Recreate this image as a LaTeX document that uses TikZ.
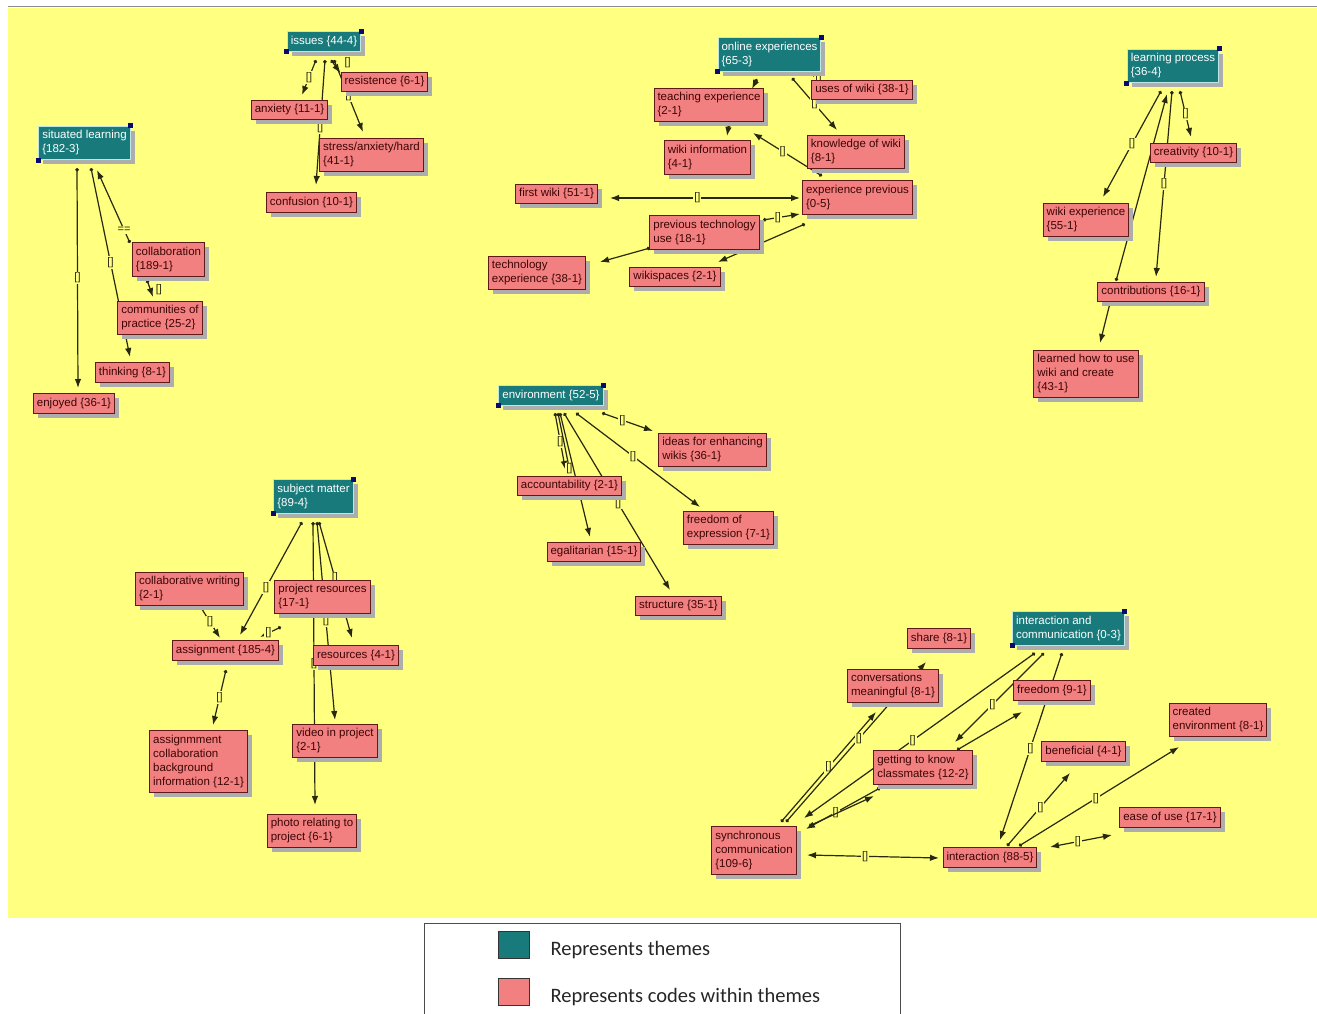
\documentclass[tikz,border=0pt]{standalone}
\usepackage{xcolor}
\usepackage{fontspec}
\setmainfont{Liberation Sans}
\newfontfamily\keyfont{Carlito}
\usepackage{tikz}
\usetikzlibrary{shadows,calc,positioning,arrows.meta}
\pgfdeclarelayer{bg}
\pgfdeclarelayer{edges}
\pgfsetlayers{bg,edges,main}

\definecolor{paper}{RGB}{255,255,128}
\definecolor{themefill}{RGB}{24,122,122}
\definecolor{themeline}{RGB}{190,230,230}
\definecolor{codefill}{RGB}{242,128,128}
\definecolor{codeline}{RGB}{95,25,25}
\definecolor{codetext}{RGB}{60,5,5}
\definecolor{edgecol}{RGB}{40,40,15}
\definecolor{handlecol}{RGB}{10,10,110}

\tikzset{
  box/.style={align=left, inner xsep=3.5pt, inner ysep=4.2pt,
    font=\fontsize{11.5}{14}\selectfont, line width=1pt,
    drop shadow={shadow xshift=4.5pt, shadow yshift=-4.5pt, fill=black!32, opacity=1}},
  theme/.style={box, fill=themefill, draw=themeline, text=white},
  code/.style={box, fill=codefill, draw=codeline, text=codetext},
  rel/.style={draw=edgecol, line width=1.2pt,
    arrows={Circle[length=3.5pt]-Latex[length=9pt,width=6.5pt]}},
  birel/.style={draw=edgecol, line width=1.2pt,
    arrows={Latex[length=9pt,width=6.5pt]-Latex[length=9pt,width=6.5pt]}},
  lbl/.style={fill=paper, inner sep=1pt, font=\fontsize{11}{11}\selectfont, text=edgecol},
  keybox/.style={draw=black!80, line width=0.8pt, minimum width=31pt, minimum height=27pt, inner sep=0pt},
  keytxt/.style={font=\keyfont\fontsize{20.5}{24}\selectfont, text=black!85, inner sep=0pt},
}

\begin{document}
\begin{tikzpicture}[x=1pt,y=-1pt]
  \useasboundingbox (0,0) rectangle (1317,1014);
  \begin{pgfonlayer}{bg}
    \fill[white] (0,0) rectangle (1317,1014);
    \fill[paper] (8,8) rectangle (1317,918);
    \draw[black!45, line width=1.5pt] (8,6.5) -- (1317,6.5);
  \end{pgfonlayer}

  % themes
  \node[theme] (sit) at (84.5,143) {situated learning\\\{182-3\}};
  \node[theme] (iss) at (324,41.5) {issues \{44-4\}};
  \node[theme] (onl) at (769.5,54.5) {online experiences\\\{65-3\}};
  \node[theme] (lrn) at (1173,66) {learning process\\\{36-4\}};
  \node[theme] (env) at (551,395.5) {environment \{52-5\}};
  \node[theme] (sub) at (313.5,496.5) {subject matter\\\{89-4\}};
  \node[theme] (iac) at (1068.5,628.5) {interaction and\\communication \{0-3\}};
  \foreach \t in {sit,iss,onl,lrn,env,sub,iac}{
    \fill[handlecol] (\t.north east) +(-2.5,-2.5) rectangle +(2.5,2.5);
    \fill[handlecol] (\t.south west) +(-2.5,-2.5) rectangle +(2.5,2.5);
  }

  % codes
  \node[code] (collab) at (168.5,259.5) {collaboration\\\{189-1\}};
  \node[code] (comm) at (160,318) {communities of\\practice \{25-2\}};
  \node[code] (think) at (132.5,372.5) {thinking \{8-1\}};
  \node[code] (enjoy) at (74,403.5) {enjoyed \{36-1\}};
  \node[code] (resist) at (384.5,82) {resistence \{6-1\}};
  \node[code] (anx) at (289.5,110) {anxiety \{11-1\}};
  \node[code] (stress) at (371.5,155) {stress/anxiety/hard\\\{41-1\}};
  \node[code] (conf) at (311.5,202.5) {confusion \{10-1\}};
  \node[code] (uses) at (862,90) {uses of wiki \{38-1\}};
  \node[code] (teach) at (709,105) {teaching experience\\\{2-1\}};
  \node[code] (know) at (856,152) {knowledge of wiki\\\{8-1\}};
  \node[code] (wikiinf) at (707.5,157.5) {wiki information\\\{4-1\}};
  \node[code] (first) at (556.5,194) {first wiki \{51-1\}};
  \node[code] (exprev) at (857.5,197.5) {experience previous\\\{0-5\}};
  \node[code] (prevtech) at (704.5,232.5) {previous technology\\use \{18-1\}};
  \node[code] (techexp) at (537,273) {technology\\experience \{38-1\}};
  \node[code] (wikisp) at (675,277) {wikispaces \{2-1\}};
  \node[code] (creat) at (1193.5,153) {creativity \{10-1\}};
  \node[code] (wikiexp) at (1086,220) {wiki experience\\\{55-1\}};
  \node[code] (contrib) at (1151,292) {contributions \{16-1\}};
  \node[code] (learned) at (1086,374) {learned how to use\\wiki and create\\\{43-1\}};
  \node[code] (ideas) at (712.5,450) {ideas for enhancing\\wikis \{36-1\}};
  \node[code] (acc) at (569.5,486) {accountability \{2-1\}};
  \node[code] (freeexp) at (728.5,528) {freedom of\\expression \{7-1\}};
  \node[code] (egal) at (594,552) {egalitarian \{15-1\}};
  \node[code] (struct) at (678.5,606) {structure \{35-1\}};
  \node[code] (colwr) at (189.5,589) {collaborative writing\\\{2-1\}};
  \node[code] (projres) at (322.5,597) {project resources\\\{17-1\}};
  \node[code] (assign) at (225.5,650.5) {assignment \{185-4\}};
  \node[code] (res) at (356,655.5) {resources \{4-1\}};
  \node[code] (assbg) at (198.5,761.5) {assignmment\\collaboration\\background\\information \{12-1\}};
  \node[code] (video) at (335,741) {video in project\\\{2-1\}};
  \node[code] (photo) at (312,831) {photo relating to\\project \{6-1\}};
  \node[code] (share) at (939,638.5) {share \{8-1\}};
  \node[code] (conv) at (893,686) {conversations\\meaningful \{8-1\}};
  \node[code] (freedom) at (1052,690.5) {freedom \{9-1\}};
  \node[code] (created) at (1218,720) {created\\environment \{8-1\}};
  \node[code] (benef) at (1083.5,751.5) {beneficial \{4-1\}};
  \node[code] (getknow) at (923,767.5) {getting to know\\classmates \{12-2\}};
  \node[code] (ease) at (1170,817.5) {ease of use \{17-1\}};
  \node[code] (sync) at (754,850.5) {synchronous\\communication\\\{109-6\}};
  \node[code] (inter) at (990,857.5) {interaction \{88-5\}};

  \begin{pgfonlayer}{edges}
    % situated learning
    \draw[rel] ($(sit)+(-7.5,25)$) -- node[lbl]{[]} ($(enjoy)+(4,-15.5)$);
    \draw[rel] ($(sit)+(6.5,25)$) -- node[lbl]{[]} ($(think)+(-2.5,-15.5)$);
    \draw[rel] ($(collab)+(-38.5,-16.5)$) -- node[lbl,pos=0.18]{==} ($(sit)+(12.5,27)$);
    \draw[rel] ($(collab)+(-21.5,20.5)$) -- node[lbl,pos=0.55,right=4pt]{[]} ($(comm)+(-7,-21)$);
    % issues
    \draw[rel] ($(iss)+(-8,18.5)$) -- node[lbl]{[]} ($(anx)+(12.5,-15)$);
    \draw[rel] ($(iss)+(1,18.5)$) -- node[lbl,pos=0.54]{[]} ($(conf)+(4.5,-17.5)$);
    \draw[rel] ($(iss)+(7,18.5)$) -- node[lbl,pos=0.2,right=10pt]{[]} ($(resist)+(-44,-9)$);
    \draw[rel] ($(iss)+(10,18.5)$) -- node[lbl]{[]} ($(stress)+(-8.5,-23)$);
    % online experiences
    \draw[rel] ($(onl)+(-12.5,24.5)$) -- ($(teach)+(43,-16)$);
    \draw[rel] ($(onl)+(45.5,19.5)$) -- node[lbl]{[]} ($(uses)+(-40,-10)$);
    \draw[rel] ($(onl)+(22.5,23.5)$) -- node[lbl]{[]} ($(know)+(-19,-22)$);
    \draw[rel] ($(teach)+(20,19)$) -- ($(wikiinf)+(19.5,-21.5)$);
    \draw[rel] ($(exprev)+(-35.5,-21.5)$) -- node[lbl,pos=0.57]{[]} ($(teach)+(44,28)$);
    \draw[birel] ($(exprev)+(-57.5,0.5)$) -- node[lbl,pos=0.54]{[]} ($(first)+(53.5,4)$);
    \draw[rel] ($(prevtech)+(58.5,-12.5)$) -- node[lbl,pos=0.4]{[]} ($(exprev)+(-57.5,16.5)$);
    \draw[rel] ($(exprev)+(-52.5,26.5)$) -- ($(wikisp)+(43,-15)$);
    \draw[rel] ($(prevtech)+(-54.5,15.5)$) -- ($(techexp)+(63,-11)$);
    % learning process
    \draw[rel] ($(lrn)+(-12,25)$) -- node[lbl]{[]} ($(wikiexp)+(17,-23)$);
    \draw[rel] ($(contrib)+(-35,-11)$) -- ($(lrn)+(-6,28)$);
    \draw[rel] ($(lrn)+(-1,25)$) -- node[lbl]{[]} ($(contrib)+(5,-15)$);
    \draw[rel] ($(lrn)+(7,25)$) -- node[lbl]{[]} ($(creat)+(-2.5,-16)$);
    \draw[rel] ($(contrib)+(-41,11)$) -- ($(learned)+(14,-31)$);
    % environment
    \draw[rel] ($(env)+(4,17.5)$) -- node[lbl]{[]} ($(acc)+(-4,-16)$);
    \draw[rel] ($(env)+(7,17.5)$) -- node[lbl,pos=0.95]{[]} ($(acc)+(0.5,-14)$);
    \draw[rel] ($(env)+(9,17.5)$) -- ($(egal)+(-4,-15)$);
    \draw[rel] ($(env)+(13,17.5)$) -- node[lbl,pos=0.51]{[]} ($(struct)+(-8.5,-16)$);
    \draw[rel] ($(env)+(25,17.5)$) -- node[lbl,pos=0.46]{[]} ($(freeexp)+(-28.5,-21)$);
    \draw[rel] ($(env)+(51,17.5)$) -- node[lbl,pos=0.4]{[]} ($(ideas)+(-59.5,-19)$);
    % subject matter
    \draw[rel] ($(sub)+(-11.5,25.5)$) -- node[lbl,pos=0.58]{[]} ($(assign)+(14.5,-15.5)$);
    \draw[rel] ($(sub)+(-0.5,25.5)$) -- node[lbl]{[]} ($(photo)+(3,-26)$);
    \draw[rel] ($(sub)+(3.5,25.5)$) -- node[lbl]{[]} ($(video)+(0,-21)$);
    \draw[rel] ($(sub)+(5.5,25.5)$) -- node[lbl,pos=0.48]{[]} ($(res)+(-4,-17.5)$);
    \draw[rel] ($(colwr)+(10.5,17)$) -- node[lbl]{[]} ($(assign)+(-5.5,-12.5)$);
    \draw[rel] ($(projres)+(-41.5,30)$) -- node[lbl,pos=0.6]{[]} ($(assign)+(34.5,-13.5)$);
    \draw[rel] ($(assign)+(0.5,19.5)$) -- node[lbl]{[]} ($(assbg)+(14.5,-36.5)$);
    % interaction and communication
    \draw[rel] ($(sync)+(27,-28.5)$) -- node[lbl,pos=0.5]{[]} ($(conv)+(-17,26)$);
    \draw[rel] ($(sync)+(32,-28.5)$) -- node[lbl,pos=0.52]{[]} ($(share)+(-13,23.5)$);
    \draw[rel] ($(iac)+(-33.5,24.5)$) -- node[lbl,pos=0.53]{[]} ($(sync)+(50,-32.5)$);
    \draw[rel] ($(iac)+(-24.5,24.5)$) -- node[lbl,pos=0.58]{[]} ($(getknow)+(32,-25.5)$);
    \draw[rel] ($(getknow)+(34,-17.5)$) -- ($(freedom)+(-30,21.5)$);
    \draw[rel] ($(getknow)+(-43,20.5)$) -- node[lbl,pos=0.6]{[]} ($(sync)+(52,-21.5)$);
    \draw[rel] ($(sync)+(55,-24.5)$) -- ($(getknow)+(-49,28.5)$);
    \draw[rel] ($(iac)+(-6.5,24.5)$) -- node[lbl,pos=0.51]{[]} ($(inter)+(10,-17.5)$);
    \draw[rel] ($(inter)+(17,-11.5)$) -- node[lbl,pos=0.53]{[]} ($(benef)+(-13.5,21.5)$);
    \draw[rel] ($(inter)+(29,-11.5)$) -- node[lbl,pos=0.48]{[]} ($(created)+(-39,27)$);
    \draw[birel] ($(inter)+(60,-10.5)$) -- node[lbl,pos=0.45]{[]} ($(ease)+(-58,17.5)$);
    \draw[birel] ($(sync)+(53,4.5)$) -- node[lbl,pos=0.44]{[]} ($(inter)+(-51,0.5)$);
  \end{pgfonlayer}

  % key
  \draw[black!70, line width=0.8pt] (424,1014) |- (900,923) -- (900,1014);
  \node[keybox, fill=themefill] (keythm) at (513.5,944.5) {};
  \node[keybox, fill=codefill] (keycode) at (513.5,991.5) {};
  \node[keytxt, right=21pt of keythm, yshift=-6pt] (keythmtxt) {Represents themes};
  \node[keytxt, right=21pt of keycode, yshift=-5.5pt] (keycodetxt) {Represents codes within themes};
\end{tikzpicture}
\end{document}
